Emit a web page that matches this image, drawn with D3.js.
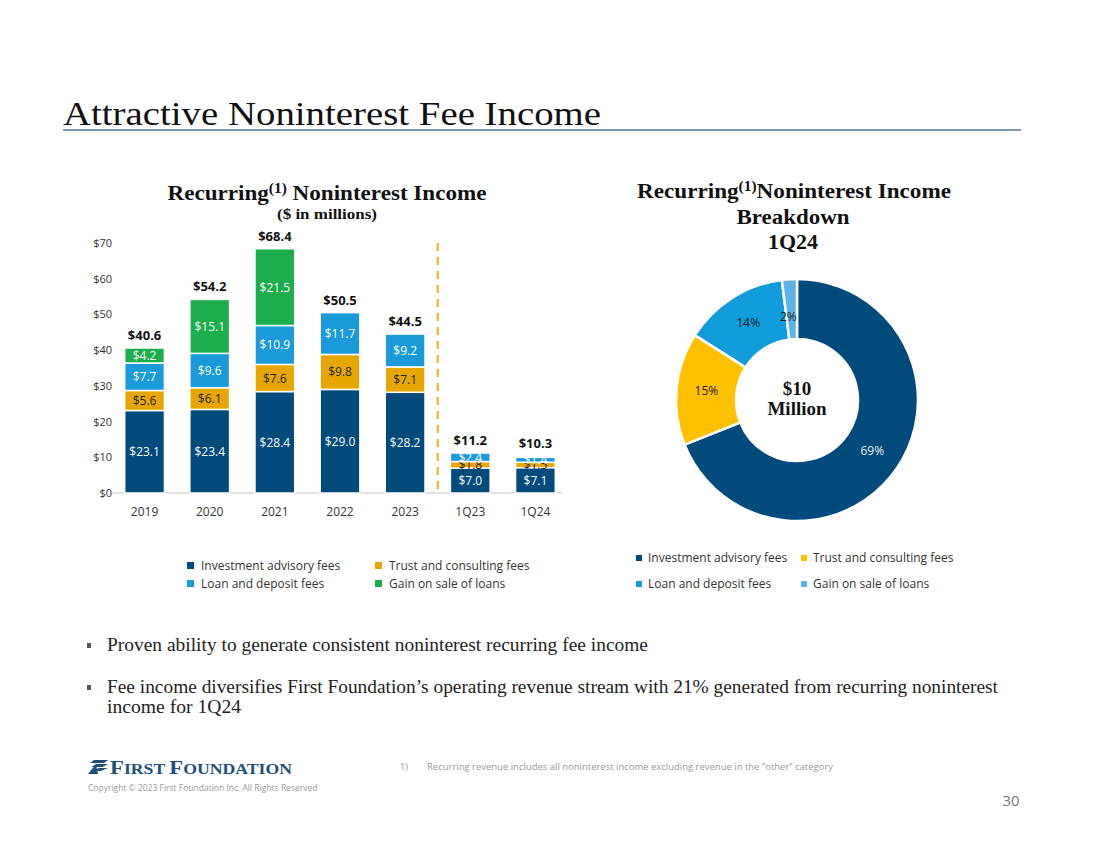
<!DOCTYPE html>
<html><head><meta charset="utf-8">
<script src="https://cdn.jsdelivr.net/npm/d3@7"></script>
<style>
body{margin:0;background:#fff;}
svg{display:block;}
</style></head>
<body>
<svg id="chart" width="1100" height="849"></svg>
<script>
// ---------- DATA ----------
const categories = ["2019","2020","2021","2022","2023","1Q23","1Q24"];
const seriesNames = ["Investment advisory fees","Trust and consulting fees","Loan and deposit fees","Gain on sale of loans"];
const investment = [23.1, 23.4, 28.4, 29.0, 28.2, 7.0, 7.1];
const trust      = [5.6, 6.1, 7.6, 9.8, 7.1, 1.8, 1.5];
const loan       = [7.7, 9.6, 10.9, 11.7, 9.2, 2.4, 1.4];
const gain       = [4.2, 15.1, 21.5, 0, 0, 0, 0.3];
const totals     = [40.6, 54.2, 68.4, 50.5, 44.5, 11.2, 10.3];
const yTicks = [0,10,20,30,40,50,60,70];

const donutLabels = ["Investment advisory fees","Trust and consulting fees","Loan and deposit fees","Gain on sale of loans"];
const donutValues = [69, 15, 14, 2];

// ---------- STYLE ----------
const barColors = ["#004A7C","#E8A700","#1A9AD8","#1CAD4C"];
const barLabelColors = ["#fff","#222","#fff","#fff"];
const donutColors = ["#004A7C","#FFC000","#119DDB","#5DB3E6"];
const donutLabelColors = ["#e8eef4","#222","#222","#222"];
const sans = "'Open Sans', 'Noto Sans', sans-serif";
const serif = "'Liberation Serif', 'Times New Roman', serif";

const svg = d3.select("#chart");

// ---------- Page title ----------
svg.append("text").attr("x",63).attr("y",125)
  .attr("font-family",serif).attr("font-size",34).attr("fill","#111")
  .attr("textLength",538).attr("lengthAdjust","spacingAndGlyphs")
  .text("Attractive Noninterest Fee Income");
svg.append("line").attr("x1",63).attr("x2",1021).attr("y1",130).attr("y2",130)
  .attr("stroke","#7E99AE").attr("stroke-width",2);

// ---------- Bar chart ----------
const x = d3.scaleBand().domain(categories).range([112,568]).paddingInner(0.39).paddingOuter(0.195);
const y = d3.scaleLinear().domain([0,70]).range([493,243]);

// chart title
const t1 = svg.append("text").attr("x",327).attr("y",200).attr("text-anchor","middle")
  .attr("font-family",serif).attr("font-weight","bold").attr("font-size",21).attr("fill","#111")
  .attr("textLength",319).attr("lengthAdjust","spacingAndGlyphs");
t1.append("tspan").text("Recurring");
t1.append("tspan").attr("font-size",14).attr("dy",-7).text("(1)");
t1.append("tspan").attr("dy",7).text(" Noninterest Income");
svg.append("text").attr("x",327).attr("y",219).attr("text-anchor","middle")
  .attr("font-family",serif).attr("font-weight","bold").attr("font-size",15).attr("fill","#111")
  .attr("textLength",100).attr("lengthAdjust","spacingAndGlyphs")
  .text("($ in millions)");

// y axis labels
const yAxis = d3.axisLeft(y).tickValues(yTicks).tickSize(0).tickPadding(0).tickFormat(d=>"$"+d);
const yg = svg.append("g").attr("transform","translate(112,0)").call(yAxis);
yg.select(".domain").remove();
yg.selectAll("text").attr("font-family",sans).attr("font-size",11).attr("fill","#333");

// x axis
const xAxis = d3.axisBottom(x).tickSize(0).tickPadding(14);
const xg = svg.append("g").attr("transform","translate(0,493)").call(xAxis);
xg.select(".domain").attr("stroke","#d9d9d9").attr("stroke-width",1.5).attr("d","M112,0H562");
xg.selectAll("text").attr("font-family",sans).attr("font-size",12).attr("fill","#333");

// stacked bars
const rows = categories.map((c,i)=>({cat:c, s0:investment[i], s1:trust[i], s2:loan[i], s3:gain[i]}));
const stack = d3.stack().keys(["s0","s1","s2","s3"])(rows);
stack.forEach((layer,k)=>{
  const g = svg.append("g");
  g.selectAll("rect").data(layer).join("rect")
    .attr("x",d=>x(d.data.cat)).attr("width",x.bandwidth())
    .attr("y",d=>y(d[1])).attr("height",d=>Math.max(0,y(d[0])-y(d[1])))
    .attr("fill",barColors[k]).attr("stroke","#fff").attr("stroke-width",d=>(d[1]-d[0])>0?1.5:0);
  g.selectAll("text").data(layer.filter(d=>(d[1]-d[0])>=1)).join("text")
    .attr("x",d=>x(d.data.cat)+x.bandwidth()/2)
    .attr("y",d=>y((d[0]+d[1])/2)+4.5)
    .attr("text-anchor","middle").attr("font-family",sans).attr("font-size",12)
    .attr("fill",barLabelColors[k])
    .text(d=>"$"+(d[1]-d[0]).toFixed(1));
});

// totals
svg.append("g").selectAll("text").data(categories).join("text")
  .attr("x",c=>x(c)+x.bandwidth()/2).attr("y",(c,i)=>y(totals[i])-8)
  .attr("text-anchor","middle").attr("font-family",sans).attr("font-weight","bold")
  .attr("font-size",13).attr("fill","#111")
  .text((c,i)=>"$"+totals[i].toFixed(1));

// dashed separator
const sepX = (x("2023")+x.bandwidth()+x("1Q23"))/2;
svg.append("line").attr("x1",sepX).attr("x2",sepX).attr("y1",y(70)).attr("y2",y(0))
  .attr("stroke","#F0A81C").attr("stroke-width",2).attr("stroke-dasharray","8,6");

// bar legend
const barLegendPos = [[187,566],[375,566],[187,584],[375,584]];
[0,1,2,3].forEach((k,i)=>{
  const [lx,ly] = barLegendPos[i];
  svg.append("rect").attr("x",lx).attr("y",ly-4).attr("width",7).attr("height",7).attr("fill",barColors[k]);
  svg.append("text").attr("x",lx+14).attr("y",ly+4).attr("font-family",sans).attr("font-size",12)
    .attr("fill","#333").text(seriesNames[k]);
});

// ---------- Donut ----------
const cx = 797, cy = 400;
const t2 = svg.append("text").attr("x",794).attr("y",198).attr("text-anchor","middle")
  .attr("font-family",serif).attr("font-weight","bold").attr("font-size",21).attr("fill","#111")
  .attr("textLength",314).attr("lengthAdjust","spacingAndGlyphs");
t2.append("tspan").text("Recurring");
t2.append("tspan").attr("font-size",14).attr("dy",-7).text("(1)");
t2.append("tspan").attr("dy",7).text("Noninterest Income");
svg.append("text").attr("x",793).attr("y",224).attr("text-anchor","middle")
  .attr("font-family",serif).attr("font-weight","bold").attr("font-size",21).attr("fill","#111")
  .attr("textLength",113).attr("lengthAdjust","spacingAndGlyphs").text("Breakdown");
svg.append("text").attr("x",793).attr("y",249).attr("text-anchor","middle")
  .attr("font-family",serif).attr("font-weight","bold").attr("font-size",21).attr("fill","#111")
  .attr("textLength",50).attr("lengthAdjust","spacingAndGlyphs").text("1Q24");

const pie = d3.pie().sort(null).value(d=>d)(donutValues);
const arc = d3.arc().innerRadius(61).outerRadius(121);
const dg = svg.append("g").attr("transform",`translate(${cx},${cy})`);
dg.selectAll("path").data(pie).join("path").attr("d",arc)
  .attr("fill",(d,i)=>donutColors[i]).attr("stroke","#fff").attr("stroke-width",2.5);
const labelArc = d3.arc().innerRadius(91).outerRadius(91);
const labelOffsets = [[0,0],[0,0],[0,0],[-3,8]];
dg.selectAll("text.pct").data(pie).join("text").attr("class","pct")
  .attr("x",(d,i)=>labelArc.centroid(d)[0]+labelOffsets[i][0])
  .attr("y",(d,i)=>labelArc.centroid(d)[1]+4+labelOffsets[i][1])
  .attr("text-anchor","middle").attr("font-family",sans).attr("font-size",12)
  .attr("fill",(d,i)=>donutLabelColors[i]).text(d=>d.data+"%");
dg.append("text").attr("x",0).attr("y",-5).attr("text-anchor","middle")
  .attr("font-family",serif).attr("font-weight","bold").attr("font-size",19).attr("fill","#111").text("$10");
dg.append("text").attr("x",0).attr("y",15).attr("text-anchor","middle")
  .attr("font-family",serif).attr("font-weight","bold").attr("font-size",19).attr("fill","#111").text("Million");

// donut legend
const dLegendPos = [[636,558],[801,558],[636,584],[801,584]];
donutLabels.forEach((name,i)=>{
  const [lx,ly] = dLegendPos[i];
  svg.append("rect").attr("x",lx).attr("y",ly-3).attr("width",6).attr("height",6).attr("fill",donutColors[i]);
  svg.append("text").attr("x",lx+12).attr("y",ly+4).attr("font-family",sans).attr("font-size",12)
    .attr("fill","#333").text(name);
});

// ---------- Bullets ----------
const bullets = [
  {y:651, lines:["Proven ability to generate consistent noninterest recurring fee income"], w:[541]},
  {y:693, lines:["Fee income diversifies First Foundation\u2019s operating revenue stream with 21% generated from recurring noninterest","income for 1Q24"], w:[891,134]}
];
bullets.forEach(b=>{
  svg.append("rect").attr("x",87).attr("y",b.y-8).attr("width",4).attr("height",5).attr("fill","#555");
  b.lines.forEach((ln,j)=>{
    svg.append("text").attr("x",107).attr("y",b.y+j*20).attr("font-family",serif).attr("font-size",18.5)
      .attr("fill","#222").attr("textLength",b.w[j]).attr("lengthAdjust","spacingAndGlyphs").text(ln);
  });
});

// ---------- Footer ----------
const logo = svg.append("g").attr("transform","translate(88,760)");
[0,4,8].forEach(o=>{
  logo.append("path").attr("d",`M${6+o*0.6},${o} L20,${o} L${16-o*0.4},${o+3} L${2+o*0.4},${o+3} Z`).attr("fill","#1F4E79");
});
logo.append("path").attr("d","M0,14 L8,4 L10,14 Z").attr("fill","#1F4E79");
const lt = svg.append("text").attr("x",110).attr("y",774).attr("font-family",serif).attr("font-weight","bold")
  .attr("fill","#1F4E79").attr("textLength",182).attr("lengthAdjust","spacingAndGlyphs");
lt.append("tspan").attr("font-size",18).text("F");
lt.append("tspan").attr("font-size",14).text("IRST ");
lt.append("tspan").attr("font-size",18).text("F");
lt.append("tspan").attr("font-size",14).text("OUNDATION");
svg.append("text").attr("x",88).attr("y",791).attr("font-family",sans).attr("font-size",8.5)
  .attr("fill","#999").text("Copyright \u00A9 2023 First Foundation Inc. All Rights Reserved");
svg.append("text").attr("x",400).attr("y",770).attr("font-family",sans).attr("font-size",9)
  .attr("fill","#999").text("1)");
svg.append("text").attr("x",427).attr("y",770).attr("font-family",sans).attr("font-size",9)
  .attr("fill","#999").attr("textLength",406).attr("lengthAdjust","spacingAndGlyphs")
  .text("Recurring revenue includes all noninterest income excluding revenue in the \u201Cother\u201D category");
svg.append("text").attr("x",1011).attr("y",806).attr("text-anchor","middle").attr("font-family",sans).attr("font-size",15)
  .attr("fill","#777").text("30");
</script>
</body></html>
